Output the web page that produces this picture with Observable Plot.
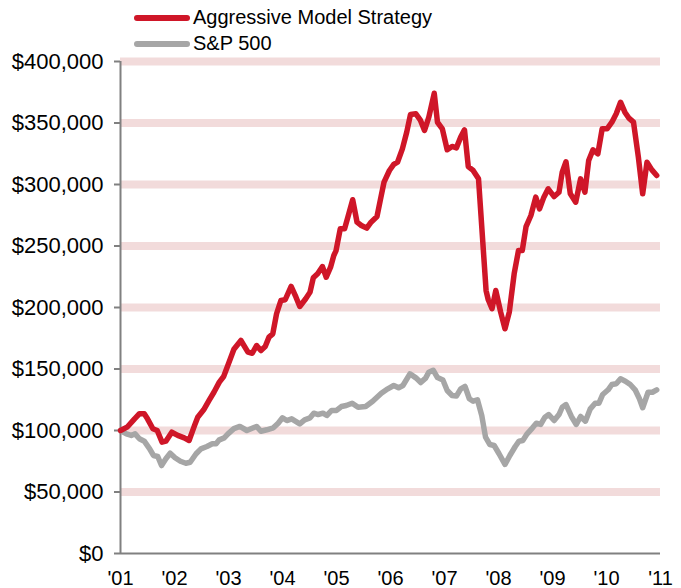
<!DOCTYPE html>
<html>
<head>
<meta charset="utf-8">
<script src="https://cdn.jsdelivr.net/npm/d3@7"></script>
<script src="https://cdn.jsdelivr.net/npm/@observablehq/plot@0.6"></script>
<style>
  html, body { margin: 0; padding: 0; background: #fff; }
  #wrap { position: relative; width: 681px; height: 588px; font-family: "Liberation Sans", Arial, sans-serif; }
  .leg { position: absolute; left: 134px; display: flex; align-items: center; font-size: 20px; color: #000; white-space: nowrap; }
  .sw { width: 56px; height: 6px; border-radius: 3px; margin-right: 3px; }
</style>
</head>
<body>
<div id="wrap"></div>
<script>
// Series names & colours
const seriesNames = ["Aggressive Model Strategy", "S&P 500"];
const seriesColors = ["#cf1628", "#a6a6a6"];

// Aggressive Model Strategy (decimal year, value)
const aggYears = [2001.00,2001.13,2001.26,2001.35,2001.44,2001.50,2001.60,2001.68,2001.77,2001.84,2001.95,
  2002.06,2002.18,2002.27,2002.37,2002.43,2002.54,2002.64,2002.73,2002.83,2002.91,
  2003.01,2003.10,2003.23,2003.36,2003.44,2003.52,2003.60,2003.68,2003.75,2003.82,2003.89,2003.97,
  2004.05,2004.16,2004.25,2004.32,2004.43,2004.51,2004.57,2004.65,2004.74,2004.81,2004.89,2004.95,2004.99,
  2005.07,2005.15,2005.21,2005.30,2005.38,2005.46,2005.56,2005.64,2005.75,2005.81,2005.88,2005.98,
  2006.06,2006.13,2006.22,2006.30,2006.37,2006.47,2006.55,2006.63,2006.71,2006.81,2006.87,2006.96,
  2007.05,2007.14,2007.22,2007.30,2007.37,2007.44,2007.53,2007.63,2007.77,2007.81,2007.88,2007.95,
  2008.04,2008.12,2008.20,2008.29,2008.37,2008.44,2008.51,2008.60,2008.69,2008.76,2008.84,2008.92,
  2009.03,2009.12,2009.18,2009.25,2009.33,2009.43,2009.52,2009.60,2009.67,2009.75,2009.84,2009.92,
  2010.01,2010.10,2010.18,2010.26,2010.34,2010.41,2010.50,2010.59,2010.67,2010.75,2010.84,2010.93];
const aggValues = [100000,103000,109500,113600,113600,109500,101400,100000,90500,91300,98600,
  96000,94000,91900,104000,110800,116800,124400,131100,139300,143900,
  155500,166000,173200,163700,162800,169100,165000,168300,175900,178600,194900,205700,
  206300,217100,208400,200800,207100,212500,224100,227400,233300,224600,232800,242300,246000,
  264000,264000,273400,287600,269400,266700,264500,269400,274000,287000,301900,311400,
  316300,318100,329000,342500,356900,357500,352600,343900,354700,374200,350600,345300,
  328200,330900,329800,338500,344400,314600,311400,304600,213800,206300,199000,213800,
  196200,182700,196200,227400,246300,246300,265800,274800,289700,280200,289700,296500,
  290200,293700,310000,318500,292400,285600,304600,293700,319500,328200,325000,345300,
  345300,350700,357500,366900,358800,354200,350700,322200,292400,318100,311900,307300];

// S&P 500 (decimal year, value)
const spYears = [2001.00,2001.11,2001.20,2001.27,2001.35,2001.44,2001.54,2001.61,2001.69,2001.76,2001.84,2001.92,
  2002.01,2002.11,2002.21,2002.29,2002.40,2002.49,2002.60,2002.70,2002.77,2002.83,2002.92,2002.99,
  2003.10,2003.21,2003.34,2003.46,2003.52,2003.60,2003.71,2003.83,2003.92,
  2004.00,2004.08,2004.17,2004.32,2004.41,2004.51,2004.58,2004.66,2004.75,2004.82,2004.91,
  2005.00,2005.09,2005.18,2005.29,2005.40,2005.54,2005.67,2005.83,2005.95,
  2006.06,2006.15,2006.23,2006.36,2006.47,2006.56,2006.65,2006.71,2006.79,2006.87,2006.97,
  2007.05,2007.14,2007.22,2007.30,2007.38,2007.46,2007.53,2007.61,2007.69,2007.76,2007.84,2007.92,
  2008.01,2008.12,2008.21,2008.31,2008.38,2008.45,2008.53,2008.63,2008.70,2008.78,2008.86,2008.93,
  2009.03,2009.12,2009.18,2009.25,2009.35,2009.44,2009.52,2009.61,2009.70,2009.79,2009.86,2009.93,
  2010.03,2010.10,2010.18,2010.26,2010.35,2010.44,2010.53,2010.61,2010.67,2010.77,2010.85,2010.93];
const spValues = [100000,97300,96000,97300,93300,91300,85100,79700,78900,71500,77000,81500,
  77800,75000,73400,74200,81100,85100,87000,89200,89200,92400,94000,97300,
  101500,103300,100000,102200,103300,99400,100600,102200,105900,
  110300,108100,109500,105400,108700,110300,114100,113000,114100,112200,116300,
  116300,119500,120300,122200,118900,119500,123800,130300,133900,
  136600,134700,136600,146100,142800,139000,142600,147400,149000,143000,141000,
  132500,128500,128000,133900,135800,125800,123800,125000,112200,94600,88600,87800,
  81100,72400,79700,87000,91300,91900,97300,102200,105900,104900,110800,113000,
  108100,113000,118900,121100,111400,104900,111400,107600,117600,122200,122200,129300,
  133100,137400,138000,142000,140100,137400,133100,125800,118500,131100,131100,133100];

// Axis ticks
const yTicks = [0, 50000, 100000, 150000, 200000, 250000, 300000, 350000, 400000];
const gridTicks = [50000, 100000, 150000, 200000, 250000, 300000, 350000, 400000];
const xTicks = [2001, 2002, 2003, 2004, 2005, 2006, 2007, 2008, 2009, 2010, 2011];
const xTickLabels = ["'01","'02","'03","'04","'05","'06","'07","'08","'09","'10","'11"];

const agg = aggYears.map((t, i) => ({t, v: aggValues[i]}));
const sp = spYears.map((t, i) => ({t, v: spValues[i]}));

const fmtY = d => "$" + d3.format(",")(d);
const fmtX = d => xTickLabels[xTicks.indexOf(d)];

const chart = Plot.plot({
  width: 681,
  height: 588,
  marginLeft: 120,
  marginRight: 21,
  marginTop: 61,
  marginBottom: 35,
  style: {fontFamily: "'Liberation Sans', Arial, sans-serif", fontSize: "20px", color: "#000", background: "#fff", overflow: "visible"},
  x: {domain: [2001, 2011]},
  y: {domain: [0, 400000]},
  marks: [
    Plot.ruleY(gridTicks, {stroke: "#f2dbdb", strokeWidth: 8}),
    Plot.axisY({ticks: yTicks, tickFormat: fmtY, tickSize: 6, tickPadding: 11, stroke: "#808080", strokeWidth: 2, fontSize: 22, fill: "#000", label: null}),
    Plot.axisX({ticks: xTicks, tickFormat: fmtX, tickSize: 0, tickPadding: 17, fontSize: 20, fill: "#000", label: null}),
    Plot.ruleX([2001], {y1: 0, y2: 400000, stroke: "#808080", strokeWidth: 2}),
    Plot.ruleY([0], {stroke: "#808080", strokeWidth: 2}),
    Plot.line(sp, {x: "t", y: "v", stroke: seriesColors[1], strokeWidth: 5.5, strokeLinejoin: "round", strokeLinecap: "round"}),
    Plot.line(agg, {x: "t", y: "v", stroke: seriesColors[0], strokeWidth: 5.5, strokeLinejoin: "round", strokeLinecap: "round"})
  ]
});

const wrap = document.getElementById("wrap");
wrap.appendChild(chart);
chart.style.position = "absolute";
chart.style.left = "0";
chart.style.top = "0";

const legTops = [6, 32];
seriesNames.forEach((name, i) => {
  const row = document.createElement("div");
  row.className = "leg";
  row.style.top = legTops[i] + "px";
  const sw = document.createElement("div");
  sw.className = "sw";
  sw.style.background = seriesColors[i];
  const tx = document.createElement("span");
  tx.textContent = name;
  row.appendChild(sw);
  row.appendChild(tx);
  wrap.appendChild(row);
});
</script>
</body>
</html>
